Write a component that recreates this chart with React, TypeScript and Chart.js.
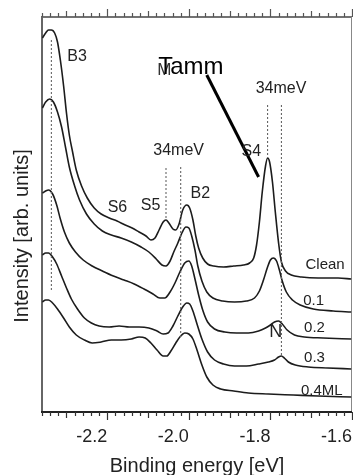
import React, { useEffect, useRef } from "react";
import { Chart, registerables } from "chart.js";

Chart.register(...registerables);

const FONT = "'Liberation Sans', Arial, Helvetica, sans-serif";

// ---- axis ----
const xMin = -2.36;
const xMax = -1.6;
const yMin = 0;
const yMax = 39.5;
const xTickValues = [-2.2, -2.0, -1.8, -1.6];
const xTickLabels = ["-2.2", "-2.0", "-1.8", "-1.6"];
const xTitle = "Binding energy [eV]";
const yTitle = "Intensity [arb. units]";

// ---- spectra: [binding energy (eV), intensity (arb. units)] ----
const clean: [number, number][] = [
  [-2.359, 37.4], [-2.351, 37.9], [-2.344, 38.2], [-2.337, 38.2], [-2.329, 37.9], [-2.322, 37.0],
  [-2.315, 35.2], [-2.307, 32.6], [-2.3, 29.9], [-2.293, 27.7], [-2.285, 26.0], [-2.276, 24.2],
  [-2.263, 22.6], [-2.249, 21.4], [-2.232, 20.4], [-2.215, 19.8], [-2.195, 19.4], [-2.176, 19.1],
  [-2.156, 18.7], [-2.139, 18.4], [-2.122, 18.0], [-2.105, 17.6], [-2.093, 17.2], [-2.083, 17.4],
  [-2.073, 18.2], [-2.063, 19.0], [-2.056, 19.2], [-2.049, 18.9], [-2.039, 18.3], [-2.032, 18.2],
  [-2.024, 18.8], [-2.015, 20.2], [-2.005, 20.7], [-1.998, 20.4], [-1.99, 19.2], [-1.983, 17.6],
  [-1.976, 16.4], [-1.966, 15.4], [-1.954, 14.8], [-1.939, 14.6], [-1.915, 14.5], [-1.89, 14.6],
  [-1.866, 14.7], [-1.851, 14.9], [-1.841, 15.4], [-1.834, 16.7], [-1.827, 19.0], [-1.82, 22.0],
  [-1.812, 24.6], [-1.807, 25.4], [-1.802, 25.0], [-1.795, 23.0], [-1.788, 20.0], [-1.78, 16.9],
  [-1.773, 15.0], [-1.763, 14.1], [-1.749, 13.7], [-1.724, 13.5], [-1.683, 13.4], [-1.634, 13.4],
  [-1.602, 13.3],
];

const ml01: [number, number][] = [
  [-2.359, 30.4], [-2.351, 31.0], [-2.341, 31.3], [-2.332, 31.0], [-2.322, 30.0], [-2.312, 28.5],
  [-2.302, 26.4], [-2.293, 24.5], [-2.28, 22.6], [-2.268, 21.2], [-2.251, 19.8], [-2.232, 18.8],
  [-2.212, 18.1], [-2.19, 17.7], [-2.166, 17.4], [-2.141, 17.0], [-2.117, 16.5], [-2.098, 16.0],
  [-2.08, 15.3], [-2.066, 14.7], [-2.056, 14.6], [-2.046, 15.1], [-2.037, 16.0], [-2.027, 16.9],
  [-2.017, 17.9], [-2.007, 18.5], [-2.0, 18.4], [-1.993, 17.6], [-1.985, 16.2], [-1.978, 14.6],
  [-1.968, 13.1], [-1.956, 12.0], [-1.941, 11.4], [-1.917, 11.1], [-1.888, 11.0], [-1.859, 11.1],
  [-1.839, 11.4], [-1.827, 12.1], [-1.817, 13.2], [-1.807, 14.5], [-1.8, 15.2], [-1.793, 15.4],
  [-1.785, 15.1], [-1.778, 14.2], [-1.771, 13.1], [-1.761, 12.0], [-1.746, 11.2], [-1.727, 10.7],
  [-1.695, 10.3], [-1.646, 10.1], [-1.602, 10.0],
];

const ml02: [number, number][] = [
  [-2.359, 21.9], [-2.351, 22.1], [-2.344, 22.2], [-2.334, 21.8], [-2.324, 20.7], [-2.315, 19.3],
  [-2.305, 18.0], [-2.293, 16.9], [-2.278, 16.0], [-2.259, 15.2], [-2.237, 14.6], [-2.212, 14.1],
  [-2.185, 13.6], [-2.159, 13.2], [-2.134, 12.8], [-2.11, 12.3], [-2.088, 11.8], [-2.071, 11.4],
  [-2.059, 11.4], [-2.046, 12.0], [-2.034, 12.9], [-2.022, 14.0], [-2.01, 14.9], [-2.0, 15.1],
  [-1.993, 14.6], [-1.985, 13.3], [-1.976, 11.7], [-1.966, 10.2], [-1.954, 9.0], [-1.937, 8.3],
  [-1.912, 8.0], [-1.883, 7.9], [-1.854, 7.9], [-1.829, 8.1], [-1.812, 8.4], [-1.8, 8.7],
  [-1.79, 9.0], [-1.78, 9.1], [-1.771, 8.8], [-1.759, 8.2], [-1.741, 7.7], [-1.717, 7.5],
  [-1.671, 7.4], [-1.602, 7.3],
];

const ml03: [number, number][] = [
  [-2.359, 15.7], [-2.351, 15.9], [-2.344, 15.9], [-2.334, 15.5], [-2.324, 14.8], [-2.312, 13.6],
  [-2.3, 12.4], [-2.288, 11.3], [-2.273, 10.3], [-2.256, 9.4], [-2.239, 8.9], [-2.22, 8.6],
  [-2.195, 8.5], [-2.171, 8.6], [-2.146, 8.5], [-2.122, 8.5], [-2.098, 8.4], [-2.078, 8.1],
  [-2.063, 7.8], [-2.051, 7.9], [-2.039, 8.6], [-2.027, 9.6], [-2.015, 10.5], [-2.005, 10.9],
  [-1.998, 10.8], [-1.99, 10.1], [-1.98, 8.8], [-1.968, 7.3], [-1.954, 6.0], [-1.937, 5.2],
  [-1.915, 4.8], [-1.888, 4.6], [-1.859, 4.6], [-1.829, 4.8], [-1.805, 5.0], [-1.79, 5.2],
  [-1.78, 5.5], [-1.773, 5.6], [-1.766, 5.4], [-1.756, 5.0], [-1.739, 4.7], [-1.707, 4.5],
  [-1.659, 4.4], [-1.602, 4.3],
];

const ml04: [number, number][] = [
  [-2.359, 11.0], [-2.351, 11.2], [-2.344, 11.2], [-2.334, 10.9], [-2.322, 10.3], [-2.307, 9.4],
  [-2.293, 8.5], [-2.276, 7.7], [-2.256, 7.2], [-2.237, 6.9], [-2.215, 7.0], [-2.19, 7.2],
  [-2.166, 7.2], [-2.141, 7.3], [-2.122, 7.5], [-2.107, 7.4], [-2.093, 6.9], [-2.078, 6.2],
  [-2.063, 5.6], [-2.054, 5.6], [-2.044, 6.1], [-2.032, 6.9], [-2.02, 7.6], [-2.01, 7.9],
  [-2.0, 7.8], [-1.99, 7.3], [-1.98, 6.2], [-1.968, 4.7], [-1.956, 3.5], [-1.941, 2.7],
  [-1.922, 2.3], [-1.89, 2.1], [-1.854, 1.9], [-1.805, 1.8], [-1.744, 1.7], [-1.683, 1.6],
  [-1.602, 1.5],
];

const spectra = [clean, ml01, ml02, ml03, ml04];
const spectraNames = ["Clean", "0.1", "0.2", "0.3", "0.4ML"];

// ---- guide lines ----
const guideB3: [number, number][] = [[-2.337, 37.2], [-2.337, 12.0]];
const guideS5: [number, number][] = [[-2.056, 24.4], [-2.056, 19.4]];
const guideB2: [number, number][] = [[-2.02, 24.5], [-2.02, 7.5]];
const guideS4: [number, number][] = [[-1.807, 30.7], [-1.807, 25.7]];
const guideS4b: [number, number][] = [[-1.773, 30.7], [-1.773, 5.5]];
const guides = [guideB3, guideS5, guideB2, guideS4, guideS4b];
const pointer: [number, number][] = [[-1.956, 33.7], [-1.829, 23.5]];

// ---- text labels ----
const labelTexts = ["B3", "34meV", "34meV", "S4", "S5", "S6", "B2", "Clean", "0.1", "0.2", "0.3", "0.4ML", "N"];
const labelE = [-2.274, -1.774, -2.025, -1.847, -2.094, -2.175, -1.972, -1.666, -1.694, -1.692, -1.692, -1.674, -1.787];
const labelI = [35.5, 32.3, 26.1, 26.0, 20.6, 20.4, 21.8, 14.7, 11.1, 8.4, 5.4, 2.1, 8.0];
const tammText = "Tamm";
const tammE = -2.075;
const tammI = 33.8;

const toXY = (arr: [number, number][]) => arr.map(([x, y]) => ({ x, y }));

const decorPlugin = {
  id: "decor",
  beforeDatasetsDraw(chart: any) {
    const { ctx, chartArea: a, scales } = chart;
    const xs = scales.x;
    ctx.save();
    // frame
    ctx.strokeStyle = "#444";
    ctx.lineWidth = 1.5;
    ctx.beginPath();
    ctx.moveTo(a.left, a.top);
    ctx.lineTo(a.right, a.top);
    ctx.stroke();
    ctx.strokeStyle = "#888";
    ctx.lineWidth = 1;
    ctx.beginPath();
    ctx.moveTo(a.right - 0.5, a.top);
    ctx.lineTo(a.right - 0.5, a.bottom);
    ctx.stroke();
    ctx.strokeStyle = "#666";
    ctx.lineWidth = 2;
    ctx.beginPath();
    ctx.moveTo(a.left, a.top - 1);
    ctx.lineTo(a.left, a.bottom);
    ctx.stroke();
    ctx.strokeStyle = "#222";
    ctx.lineWidth = 2;
    ctx.beginPath();
    ctx.moveTo(a.left - 1, a.bottom);
    ctx.lineTo(a.right, a.bottom);
    ctx.stroke();
    // ticks every 0.02 eV
    ctx.lineWidth = 1.2;
    for (let i = 0; i <= 38; i++) {
      const v = xMin + i * 0.02;
      const c = Math.round(v * 100);
      const len = c % 20 === 0 ? 8 : c % 10 === 0 ? 6 : 4;
      const px = Math.round(xs.getPixelForValue(v)) + 0.5;
      ctx.strokeStyle = "#333";
      ctx.beginPath();
      ctx.moveTo(px, a.bottom);
      ctx.lineTo(px, a.bottom + len);
      ctx.stroke();
      ctx.strokeStyle = "#555";
      ctx.beginPath();
      ctx.moveTo(px, a.top);
      ctx.lineTo(px, a.top - len);
      ctx.stroke();
    }
    ctx.restore();
  },
  afterDatasetsDraw(chart: any) {
    const { ctx, chartArea: a, scales } = chart;
    const xs = scales.x;
    const ys = scales.y;
    ctx.save();
    ctx.fillStyle = "#222";
    ctx.textAlign = "center";
    ctx.textBaseline = "middle";
    labelTexts.forEach((t, i) => {
      const size = t === "N" ? 18 : t.startsWith("0") || t === "Clean" ? 15 : 16;
      ctx.font = `${size}px ${FONT}`;
      ctx.fillText(t, xs.getPixelForValue(labelE[i]), ys.getPixelForValue(labelI[i]));
    });
    // Tamm label with overlapped glyph
    const tx = xs.getPixelForValue(tammE);
    const ty = ys.getPixelForValue(tammI);
    ctx.textAlign = "left";
    ctx.textBaseline = "alphabetic";
    ctx.fillStyle = "#333";
    ctx.font = `17px ${FONT}`;
    ctx.fillText("M", tx - 1, ty + 1);
    ctx.fillStyle = "#000";
    ctx.font = `24px ${FONT}`;
    ctx.fillText(tammText, tx, ty);
    // y title
    ctx.fillStyle = "#222";
    ctx.font = `20px ${FONT}`;
    ctx.textAlign = "center";
    ctx.textBaseline = "middle";
    ctx.translate(a.left - 20, a.top + 219);
    ctx.rotate(-Math.PI / 2);
    ctx.fillText(yTitle, 0, 0);
    ctx.restore();
  },
};

export default function App() {
  const ref = useRef<HTMLCanvasElement | null>(null);
  useEffect(() => {
    if (!ref.current) return;
    const datasets: any[] = [];
    guides.forEach((g) => {
      datasets.push({
        data: toXY(g),
        borderColor: "#666",
        borderWidth: 1.1,
        borderDash: [2, 2],
        pointRadius: 0,
        fill: false,
      });
    });
    spectra.forEach((s, i) => {
      datasets.push({
        label: spectraNames[i],
        data: toXY(s),
        borderColor: "#1c1c1c",
        borderWidth: 1.6,
        pointRadius: 0,
        fill: false,
        cubicInterpolationMode: "monotone",
      });
    });
    datasets.push({
      data: toXY(pointer),
      borderColor: "#000",
      borderWidth: 3,
      pointRadius: 0,
      fill: false,
    });
    const chart = new Chart(ref.current, {
      type: "line",
      data: { datasets },
      options: {
        responsive: false,
        maintainAspectRatio: false,
        devicePixelRatio: 1,
        animation: false,
        layout: { padding: { left: 42, top: 17, right: 1, bottom: 0 } },
        plugins: { legend: { display: false }, tooltip: { enabled: false } },
        scales: {
          x: {
            type: "linear",
            min: xMin,
            max: xMax,
            afterBuildTicks: (s: any) => {
              s.ticks = xTickValues.map((v) => ({ value: v }));
            },
            afterFit: (s: any) => {
              s.height = 63;
            },
            ticks: {
              autoSkip: false,
              align: "end",
              padding: 0,
              color: "#222",
              font: { family: FONT, size: 18 },
              callback: (_v: any, i: number) => xTickLabels[i],
            },
            grid: { display: false, drawTicks: true, tickLength: 14 },
            border: { display: false },
            title: {
              display: true,
              text: xTitle,
              color: "#222",
              font: { family: FONT, size: 20, lineHeight: 0.9 },
              padding: { top: 0, bottom: 0 },
            },
          },
          y: { type: "linear", display: false, min: yMin, max: yMax },
        },
      },
      plugins: [decorPlugin],
    } as any);
    return () => chart.destroy();
  }, []);
  return (
    <div style={{ position: "fixed", left: 0, top: 0, width: 353, height: 475, background: "#fff" }}>
      <canvas ref={ref} width={353} height={475} style={{ display: "block" }} />
    </div>
  );
}
